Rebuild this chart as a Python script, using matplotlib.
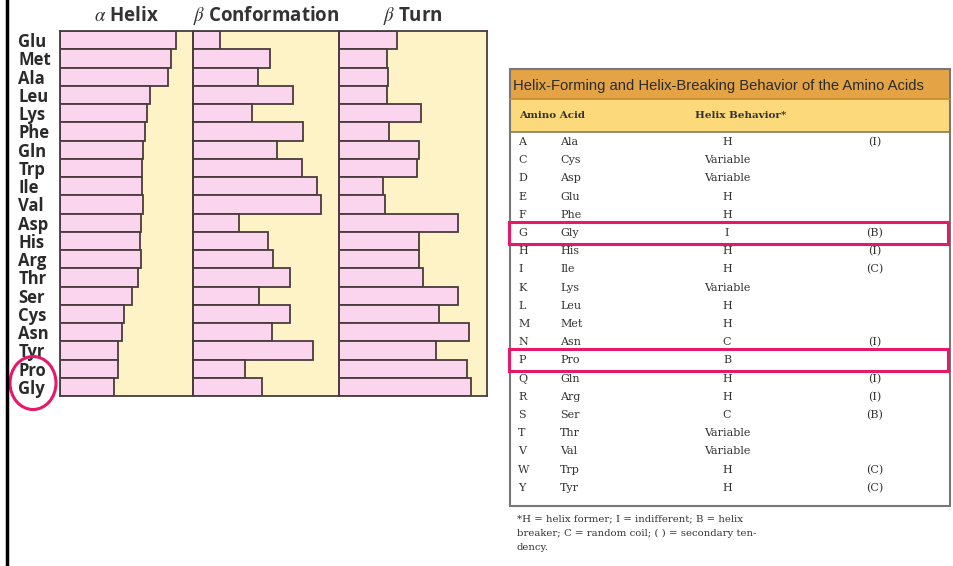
import matplotlib.pyplot as plt
from matplotlib.patches import Rectangle, Ellipse
from matplotlib.lines import Line2D

plt.rcParams['mathtext.fontset'] = 'stix'

# ---- bar chart data (relative propensities) ----
amino = ['Glu', 'Met', 'Ala', 'Leu', 'Lys', 'Phe', 'Gln', 'Trp', 'Ile', 'Val',
         'Asp', 'His', 'Arg', 'Thr', 'Ser', 'Cys', 'Asn', 'Tyr', 'Pro', 'Gly']
helix = [1.16, 1.11, 1.08, 0.90, 0.87, 0.85, 0.83, 0.82, 0.82, 0.83,
         0.81, 0.80, 0.81, 0.78, 0.72, 0.64, 0.62, 0.58, 0.58, 0.54]
sheet = [0.27, 0.77, 0.65, 1.00, 0.59, 1.10, 0.84, 1.09, 1.24, 1.28,
         0.46, 0.75, 0.80, 0.97, 0.66, 0.97, 0.79, 1.20, 0.52, 0.69]
turn = [0.58, 0.48, 0.49, 0.48, 0.82, 0.50, 0.80, 0.78, 0.44, 0.46,
        1.19, 0.80, 0.80, 0.84, 1.19, 1.00, 1.30, 0.97, 1.28, 1.32]
panel_titles = [r'$\alpha$ Helix', r'$\beta$ Conformation', r'$\beta$ Turn']
panel_max = [1.33, 1.46, 1.48]

# ---- table data ----
tbl_title = 'Helix-Forming and Helix-Breaking Behavior of the Amino Acids'
codes = ['A', 'C', 'D', 'E', 'F', 'G', 'H', 'I', 'K', 'L',
         'M', 'N', 'P', 'Q', 'R', 'S', 'T', 'V', 'W', 'Y']
names = ['Ala', 'Cys', 'Asp', 'Glu', 'Phe', 'Gly', 'His', 'Ile', 'Lys', 'Leu',
         'Met', 'Asn', 'Pro', 'Gln', 'Arg', 'Ser', 'Thr', 'Val', 'Trp', 'Tyr']
behavior = ['H', 'Variable', 'Variable', 'H', 'H', 'I', 'H', 'H', 'Variable', 'H',
            'H', 'C', 'B', 'H', 'H', 'C', 'Variable', 'Variable', 'H', 'H']
second = ['(I)', '', '', '', '', '(B)', '(I)', '(C)', '', '',
          '', '(I)', '', '(I)', '(I)', '(B)', '', '', '(C)', '(C)']
footnote = ['*H = helix former; I = indifferent; B = helix',
            'breaker; C = random coil; ( ) = secondary ten-',
            'dency.']

W, H = 954, 566
fig = plt.figure(figsize=(W / 100, H / 100), dpi=100)
fig.patch.set_facecolor('white')

def frac(x0, y0, x1, y1):
    return [x0 / W, 1 - y1 / H, (x1 - x0) / W, (y1 - y0) / H]

pink = '#fbd5ee'
bg = '#fdf3c6'
edge = '#4a3c3c'
panels = [(60, 193), (193, 339), (339, 487)]
series = [helix, sheet, turn]
ypos = list(range(len(amino)))

for i, ((x0, x1), vals) in enumerate(zip(panels, series)):
    ax = fig.add_axes(frac(x0, 31, x1, 396))
    ax.set_facecolor(bg)
    ax.barh(ypos, vals, height=1.0, color=pink, edgecolor=edge, linewidth=1.3)
    ax.set_xlim(0, panel_max[i])
    ax.set_ylim(len(amino) - 0.5, -0.5)
    ax.set_xticks([])
    for s in ax.spines.values():
        s.set_color(edge)
        s.set_linewidth(1.3)
    if i == 0:
        ax.set_yticks(ypos)
        ax.set_yticklabels(amino, fontsize=12, fontweight='bold', color='#2a2a2a',
                           ha='left', family='Open Sans')
        ax.tick_params(axis='y', length=0, pad=30)
    else:
        ax.set_yticks([])
    ax.set_title(panel_titles[i], fontsize=13.5, fontweight='bold', color='#333333',
                 family='Open Sans', pad=7)

# overlay in pixel coordinates for table and annotations
ov = fig.add_axes([0, 0, 1, 1])
ov.set_xlim(0, W)
ov.set_ylim(H, 0)
ov.axis('off')

ov.add_line(Line2D([7, 7], [0, H], color='black', lw=2.5))
ov.add_patch(Ellipse((33, 383), 46, 53, fill=False, ec='#e6186a', lw=2.2))

# table frame
ov.add_patch(Rectangle((510, 69), 440, 30, fc='#e4a446', ec='none'))
ov.add_patch(Rectangle((510, 99), 440, 33, fc='#fcd97a', ec='none'))
ov.add_line(Line2D([510, 950], [99, 99], color='#c98a2e', lw=1.2))
ov.add_line(Line2D([510, 950], [132, 132], color='#8a7a55', lw=1.2))
ov.add_patch(Rectangle((510, 69), 440, 437, fill=False, ec='#777777', lw=1.5))

ov.text(513, 86, tbl_title, fontsize=10.6, color='#2a2a2a', va='center',
        family='Liberation Sans')
ov.text(519, 116, 'Amino Acid', fontsize=7.5, fontweight='bold', color='#333333',
        va='center', family='DejaVu Serif')
ov.text(695, 116, 'Helix Behavior*', fontsize=7.5, fontweight='bold', color='#333333',
        va='center', family='DejaVu Serif')

row_y0, row_dy = 142, 18.2
for k in range(len(codes)):
    y = row_y0 + k * row_dy
    kw = dict(fontsize=8, color='#333333', va='center', family='DejaVu Serif')
    ov.text(518, y, codes[k], **kw)
    ov.text(560, y, names[k], **kw)
    ov.text(727, y, behavior[k], ha='center', **kw)
    if second[k]:
        ov.text(875, y, second[k], ha='center', **kw)

# highlight boxes
for nm in ['Gly', 'Pro']:
    k = names.index(nm)
    y = row_y0 + k * row_dy
    ov.add_patch(Rectangle((509, y - 11), 439, 22, fill=False, ec='#e6186a', lw=2.2))

for j, line in enumerate(footnote):
    ov.text(517, 519 + j * 14, line, fontsize=7.3, color='#333333', va='center',
            family='DejaVu Serif')

fig.savefig('out.png', dpi=100)
